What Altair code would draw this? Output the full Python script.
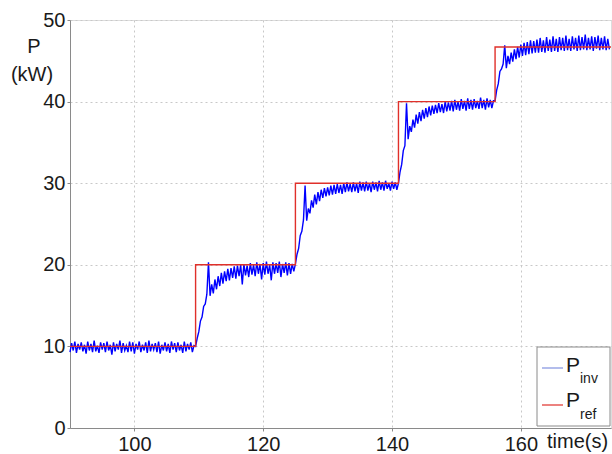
import altair as alt
import pandas as pd

# ---- data ----
# step times (s) and reference levels (kW)
step_times = [90, 109.5, 125, 141, 156, 174]
ref_levels = [10, 20, 30, 40, 46.7]

# measured inverter power, one list per reference step (kW)
p_inv_1 = [9.3, 10.4, 9.5, 10.6, 9.2, 10.3, 9.6, 10.5, 9.4, 10.2, 9.1, 10.6, 9.5, 10.3, 9.3, 10.7,
           9.4, 10.1, 9.2, 10.5, 9.6, 10.4, 9.3, 10.6, 9.5, 10.2, 9.0, 10.5, 9.4, 10.3, 9.6, 10.7,
           9.2, 10.4, 9.5, 10.1, 9.3, 10.6, 9.4, 10.5, 9.1, 10.3, 9.6, 10.6, 9.3, 10.2, 9.5, 10.5,
           9.2, 10.7, 9.4, 10.3, 9.6, 10.4, 9.3, 10.6, 9.1, 10.2, 9.5, 10.5, 9.4, 10.3, 9.2, 10.6,
           9.6, 10.4, 9.3, 10.5, 9.5, 10.2, 9.2, 10.6, 9.4, 10.3, 9.6, 10.5, 9.3, 10.1]
p_inv_2 = [10.0, 11.0, 11.8, 13.1, 13.6, 14.9, 15.2, 16.4, 20.3, 16.2, 17.6, 16.5, 18.2, 17.0, 18.6,
           17.4, 19.0, 17.7, 19.2, 18.0, 19.5, 18.1, 19.6, 18.4, 19.8, 18.3, 19.9, 18.6, 20.0, 17.6,
           20.1, 18.7, 19.9, 18.5, 20.2, 18.8, 20.0, 18.6, 20.3, 18.9, 20.1, 18.2, 20.2, 18.8, 20.4,
           18.9, 20.0, 18.1, 20.3, 18.9, 20.2, 19.0, 20.4, 18.5, 20.1, 19.0, 20.3, 18.7, 20.2, 18.9,
           20.1, 19.2]
p_inv_3 = [20.1, 21.3, 22.0, 23.6, 24.1, 25.5, 29.7, 25.4, 26.9, 26.3, 27.9, 27.0, 28.6, 27.4, 28.9,
           27.8, 29.2, 28.2, 29.4, 28.4, 29.5, 28.5, 29.7, 28.6, 29.8, 28.7, 29.9, 28.8, 29.8, 28.7,
           30.0, 28.9, 30.1, 29.0, 29.9, 28.9, 30.1, 29.0, 30.0, 28.8, 30.2, 29.1, 30.1, 29.0, 30.2,
           29.1, 30.0, 28.9, 30.2, 29.2, 30.1, 29.0, 30.3, 29.2, 30.1, 29.1, 30.3, 29.3, 30.0, 29.1,
           30.2, 29.3, 30.1, 29.2]
p_inv_4 = [30.0, 31.4, 32.3, 34.0, 34.6, 39.8, 35.4, 37.0, 36.3, 37.8, 36.8, 38.4, 37.3, 38.7, 37.6,
           39.0, 37.9, 39.2, 38.1, 39.4, 38.3, 39.5, 38.5, 39.6, 38.6, 39.8, 38.7, 39.7, 38.6, 40.0,
           38.8, 39.9, 38.9, 40.1, 38.8, 40.2, 39.0, 40.0, 38.9, 40.3, 39.1, 40.1, 38.9, 40.4, 39.1,
           40.2, 39.0, 40.3, 39.2, 40.1, 39.1, 40.5, 39.2, 40.2, 39.0, 40.4, 39.3, 40.2, 39.2, 40.1]
p_inv_5 = [40.1, 41.4, 42.2, 43.7, 44.0, 44.6, 46.9, 44.1, 45.6, 44.6, 46.0, 44.9, 46.4, 45.2, 46.7,
           45.4, 47.0, 45.6, 47.2, 45.7, 47.3, 45.8, 47.5, 45.9, 47.4, 46.0, 47.6, 46.0, 47.8, 46.1,
           47.5, 46.0, 47.9, 46.2, 47.6, 46.1, 48.0, 46.2, 47.7, 46.1, 47.9, 46.3, 47.8, 46.2, 48.1,
           46.3, 47.7, 46.2, 48.0, 46.4, 47.8, 46.2, 48.1, 46.3, 47.9, 46.4, 48.2, 46.3, 47.8, 46.4,
           48.0, 46.2, 47.9, 46.5, 48.1, 46.3, 47.8, 46.4, 48.0, 46.3, 47.7, 46.4]

x_ticks = [100, 120, 140, 160]
y_ticks = [0, 10, 20, 30, 40, 50]

# ---- tables ----
segments = [p_inv_1, p_inv_2, p_inv_3, p_inv_4, p_inv_5]
rows = []
for k, seg in enumerate(segments):
    t0, t1 = step_times[k], step_times[k + 1]
    n = len(seg)
    for i, v in enumerate(seg):
        rows.append({"t": t0 + (t1 - t0) * i / n, "p": v})
inv_df = pd.DataFrame(rows)

ref_rows = []
order = 0
for k, lvl in enumerate(ref_levels):
    ref_rows.append({"t": step_times[k], "p": lvl, "o": order}); order += 1
    ref_rows.append({"t": step_times[k + 1], "p": lvl, "o": order}); order += 1
ref_df = pd.DataFrame(ref_rows)

FONT = "Liberation Sans"
W, H = 541, 408
xscale = alt.Scale(domain=[90, 174], nice=False, zero=False)
yscale = alt.Scale(domain=[0, 50], nice=False)

xaxis = alt.Axis(values=x_ticks, title=None, grid=True, gridDash=[2, 3], gridColor="#c8c8c8",
                 domainColor="#8a8a8a", tickColor="#8a8a8a", tickSize=3, labelFontSize=20,
                 labelFont=FONT, labelColor="#1a1a1a", labelPadding=3)
yaxis = alt.Axis(values=y_ticks, title=None, grid=True, gridDash=[2, 3], gridColor="#c8c8c8",
                 domainColor="#8a8a8a", tickColor="#8a8a8a", tickSize=3, labelFontSize=20,
                 labelFont=FONT, labelColor="#1a1a1a", labelPadding=2)

blue = alt.Chart(inv_df).mark_line(color="#0000ff", strokeWidth=1.4).encode(
    x=alt.X("t:Q", scale=xscale, axis=xaxis),
    y=alt.Y("p:Q", scale=yscale, axis=yaxis),
)
red = alt.Chart(ref_df).mark_line(color="#e0302a", strokeWidth=1.4).encode(
    x=alt.X("t:Q", scale=xscale),
    y=alt.Y("p:Q", scale=yscale),
    order="o:Q",
)

one = pd.DataFrame({"a": [0]})
def txt(s, x, y, size, align="center"):
    return alt.Chart(one).mark_text(text=s, font=FONT, fontSize=size, color="#1a1a1a",
                                    align=align, baseline="middle").encode(
        x=alt.value(x), y=alt.value(y))

legend_box = alt.Chart(one).mark_rect(fill="white", stroke="#8a8a8a", strokeWidth=1).encode(
    x=alt.value(467), x2=alt.value(540), y=alt.value(327), y2=alt.value(406))
leg_inv = alt.Chart(one).mark_rule(color="#8090e0", strokeWidth=1.2).encode(
    x=alt.value(472), x2=alt.value(493), y=alt.value(348))
leg_ref = alt.Chart(one).mark_rule(color="#e0302a", strokeWidth=1.2).encode(
    x=alt.value(472), x2=alt.value(493), y=alt.value(385))

chart = alt.layer(
    blue, red,
    txt("P", -36, 27, 20), txt("(kW)", -38, 55, 20),
    txt("time(s)", 477, 422, 20, align="left"),
    legend_box, leg_inv, leg_ref,
    txt("P", 496, 346, 21, align="left"), txt("inv", 510, 359, 14, align="left"),
    txt("P", 496, 381, 21, align="left"), txt("ref", 510, 395, 14, align="left"),
).properties(
    width=W, height=H,
    autosize=alt.AutoSizeParams(type="none"),
    padding={"left": 70, "top": 20, "right": 1, "bottom": 26},
).configure_view(stroke="#8a8a8a", strokeWidth=1).configure(background="white")

chart.save("out.html", embed_options={"renderer": "svg", "actions": False})
